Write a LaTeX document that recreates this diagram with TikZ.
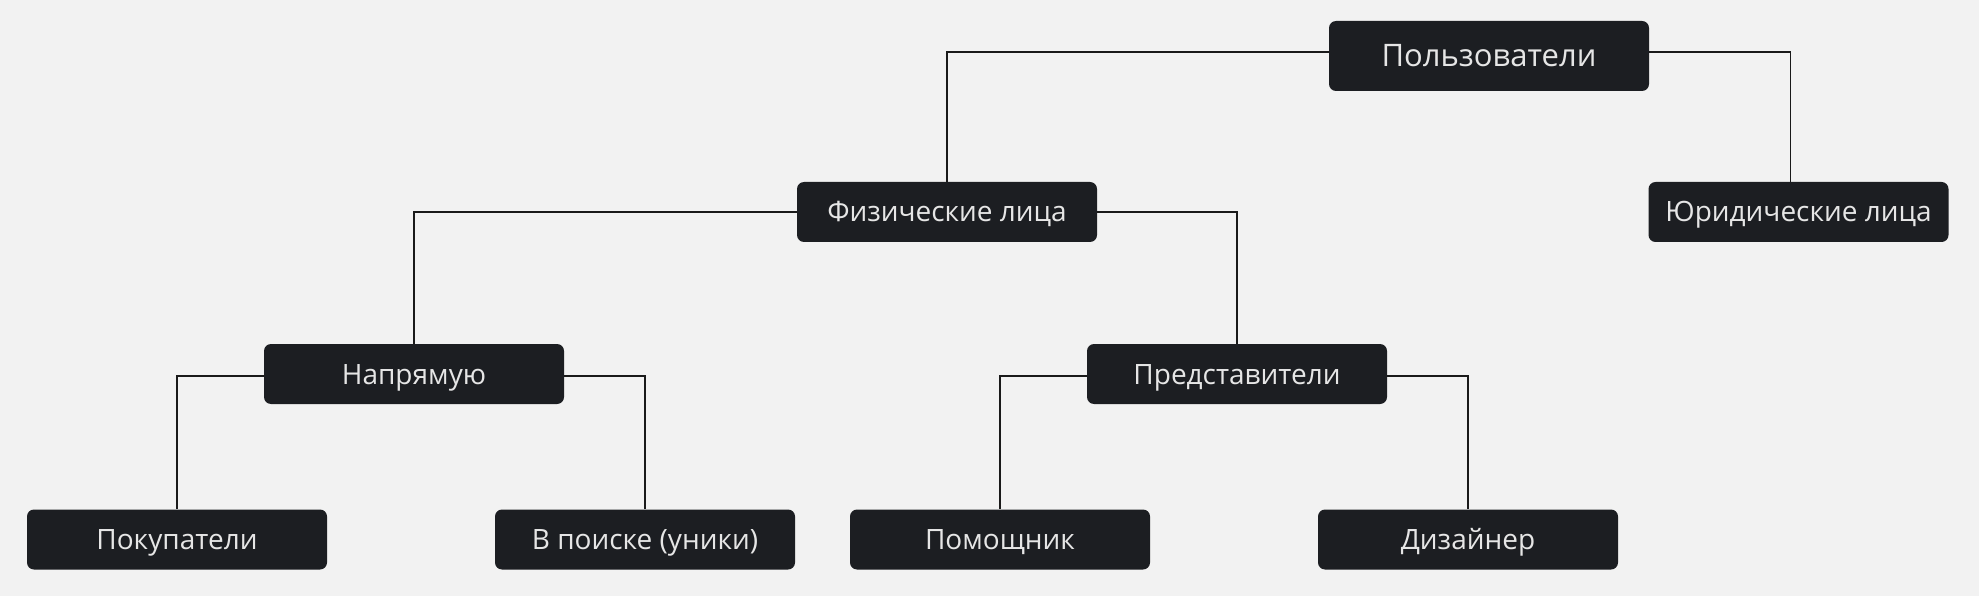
\documentclass[tikz,border=0pt]{standalone}
\usepackage{fontspec}
\setmainfont{Open Sans}
\definecolor{bg}{HTML}{F2F2F2}
\definecolor{boxc}{HTML}{1C1E22}
\definecolor{txt}{HTML}{E6E6E6}
\definecolor{linec}{HTML}{1A1A1A}
\begin{document}
\begin{tikzpicture}[x=1pt,y=-1pt,
  box/.style={fill=boxc, text=txt, rounded corners=7pt, minimum width=300pt, minimum height=60pt, inner sep=0pt, font=\fontsize{28}{32}\selectfont, text height=20pt, text depth=0pt, anchor=center},
  topbox/.style={box, minimum width=320pt, minimum height=70pt, font=\fontsize{31}{35}\selectfont, text height=22pt},
  conn/.style={draw=linec, line width=1.8pt}]
\fill[bg] (0,0) rectangle (1979,596);
\useasboundingbox (0,0) rectangle (1979,596);
\node[topbox] (P) at (1489,56) {Пользователи};
\node[box] (F) at (947,212) {Физические лица};
\node[box] (Y) at (1798.5,212) {Юридические лица};
\node[box] (N) at (414,374) {Напрямую};
\node[box] (R) at (1237,374) {Представители};
\node[box] (K) at (177,539.5) {Покупатели};
\node[box] (V) at (645,539.5) {В поиске (уники)};
\node[box] (M) at (1000,539.5) {Помощник};
\node[box] (D) at (1468,539.5) {Дизайнер};
\coordinate (Yt) at ([xshift=-8pt]Y.north);
\draw[conn] ([yshift=4pt]P.west) -| (F.north);
\draw[conn] ([yshift=4pt]P.east) -| (Yt);
\draw[conn] (F.west) -| (N.north);
\draw[conn] (F.east) -| (R.north);
\draw[conn] ([yshift=-2pt]N.west) -| (K.north);
\draw[conn] ([yshift=-2pt]N.east) -| (V.north);
\draw[conn] ([yshift=-2pt]R.west) -| (M.north);
\draw[conn] ([yshift=-2pt]R.east) -| (D.north);
\end{tikzpicture}
\end{document}
